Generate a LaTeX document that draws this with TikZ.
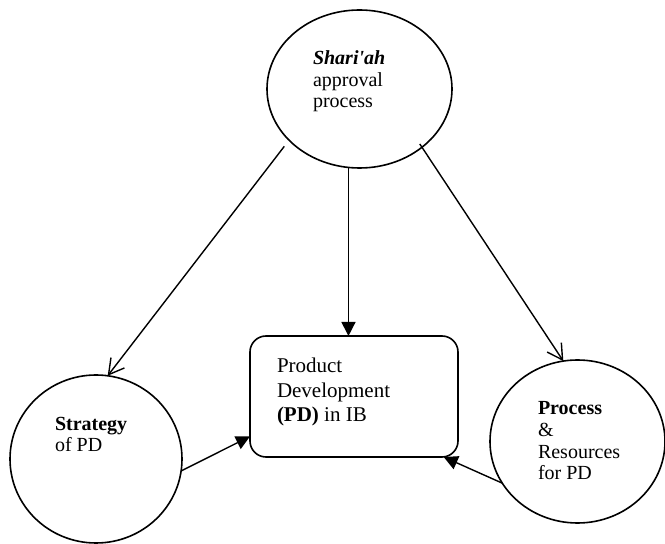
\documentclass[tikz,border=0pt]{standalone}
\usepackage{fontspec}
\setmainfont{Liberation Serif}
\usetikzlibrary{arrows.meta,calc,shapes.geometric}
\begin{document}
\begin{tikzpicture}[x=1pt,y=1pt,
  outline/.style={draw, line width=1.6pt, inner sep=0pt, outer sep=0pt},
  bubble/.style={outline, ellipse},
  panel/.style={outline, rectangle, rounded corners=16pt},
  caption/.style={inner sep=0pt, outer sep=0pt, anchor=base west, align=left,
    font=\fontsize{20}{21.5}\selectfont},
  link/.style={line width=1.4pt},
  openhead/.style={-{Straight Barb[length=15pt,width=17pt]}},
  solidhead/.style={-{Triangle[length=14pt,width=14pt]}}]
  \useasboundingbox (0,0) rectangle (665,544);

  % shapes
  \node[bubble, minimum width=185pt, minimum height=158pt] (sharia) at (359.5,455) {};
  \node[bubble, minimum width=172pt, minimum height=168pt] (strategy) at (96,85) {};
  \node[bubble, minimum width=175pt, minimum height=163pt] (process) at (577.5,102.5) {};
  \node[panel, minimum width=208pt, minimum height=121pt] (pd) at (354,147.5) {};

  % texts (anchored at the baseline of the last line)
  \node[caption] (shariatext) at (313,436)
    {\textbf{\textit{Shari\textquotesingle ah}}\\approval\\process};
  \node[caption, font=\fontsize{21}{24.5}\selectfont] (pdtext) at (277,122.3)
    {Product\\Development\\\textbf{(PD)} in IB};
  \node[caption, font=\fontsize{20}{21}\selectfont] (strategytext) at (55,92)
    {\textbf{Strategy}\\of PD};
  \node[caption, font=\fontsize{20}{21.7}\selectfont] (processtext) at (538,64)
    {\textbf{Process}\\\&\\Resources\\for PD};

  % connectors
  \draw[link, openhead, shorten <=7.8pt] (sharia.216) -- (strategy.82.5);
  \draw[link, solidhead] (sharia.262) -- (sharia.262 |- pd.north);
  \draw[link, openhead, shorten <=-4pt] (sharia.317) -- (process.100.5);
  \draw[link, solidhead] (strategy.352) -- (pd.201);
  \draw[link, solidhead] (process.209) -- (pd.326);
\end{tikzpicture}
\end{document}
